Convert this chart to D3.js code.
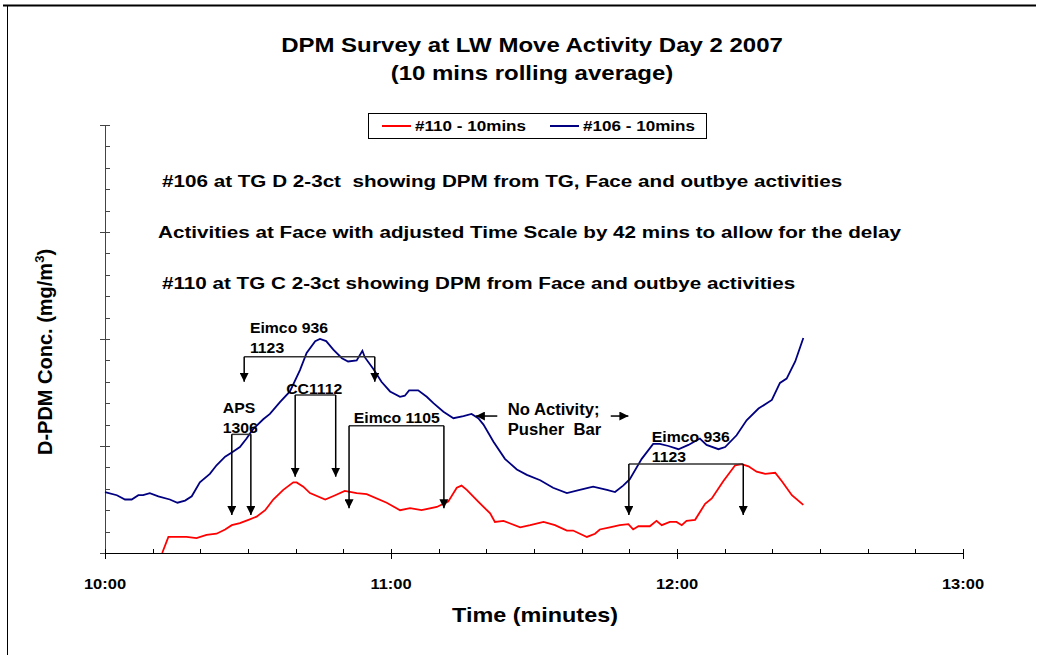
<!DOCTYPE html>
<html>
<head>
<meta charset="utf-8">
<style>
body { margin: 0; background: #fff; }
svg text { font-family: "Liberation Sans", Arial, sans-serif; font-weight: bold; fill: #000; white-space: pre; }
</style>
</head>
<body>
<div id="container"></div>
<script src="https://d3js.org/d3.v7.min.js"></script>
<script>
const width = 1038, height = 655;

// minutes after 10:00, 10-min rolling average
const timeTicks = [0, 60, 120, 180];
const timeLabels = ["10:00", "11:00", "12:00", "13:00"];

const t106 = [0, 2.5, 4.2, 5.6, 7, 8, 9.4, 11.2, 13.6, 15.2, 16.8, 18.2, 19.9, 22, 23.4, 25.2, 26.6, 28.3, 29.7, 31.1, 33.2, 34.6, 36.7, 38.8, 40.9, 42.3, 44.1, 45.1, 46.4, 47.9, 49.7, 51, 52.8, 54, 54.5, 56.3, 58, 59.8, 61.9, 62.9, 63.8, 65.7, 67.5, 68.9, 71, 73.1, 75.2, 76.9, 78.3, 79.4, 81.5, 83.9, 86.4, 88.5, 91.3, 94, 96.9, 99.6, 102.4, 105.3, 107, 108.7, 110.1, 112.6, 115, 116.4, 118.2, 120.3, 122.4, 124.8, 126.2, 128.7, 130.1, 132.5, 134.6, 137.1, 139.9, 141.6, 143, 144.8, 146.5];
const v106 = [0.057, 0.054, 0.050, 0.050, 0.054, 0.054, 0.056, 0.053, 0.050, 0.047, 0.049, 0.053, 0.066, 0.074, 0.082, 0.090, 0.094, 0.099, 0.107, 0.116, 0.125, 0.130, 0.141, 0.151, 0.171, 0.187, 0.198, 0.200, 0.198, 0.190, 0.182, 0.179, 0.180, 0.189, 0.183, 0.172, 0.160, 0.151, 0.146, 0.147, 0.152, 0.152, 0.146, 0.140, 0.132, 0.126, 0.128, 0.130, 0.126, 0.120, 0.104, 0.088, 0.078, 0.073, 0.068, 0.061, 0.056, 0.059, 0.062, 0.059, 0.057, 0.063, 0.069, 0.088, 0.102, 0.102, 0.100, 0.097, 0.101, 0.107, 0.101, 0.097, 0.099, 0.110, 0.124, 0.135, 0.143, 0.159, 0.163, 0.179, 0.201];

const t110 = [12, 13.3, 15, 17.1, 19.2, 21.3, 23.4, 25.2, 26.6, 28.3, 30.1, 31.8, 33.6, 35.3, 37.4, 39.5, 40.2, 41.6, 43, 46.2, 48.3, 50.3, 52.8, 54.9, 59.1, 61.9, 64, 66.4, 69.6, 72, 73.8, 74.8, 75.9, 78.3, 80.8, 81.8, 83.6, 87.1, 89.2, 92, 94.4, 96.9, 98.2, 101.1, 102.8, 103.8, 105.9, 108, 109.8, 110.8, 111.9, 114.3, 115.7, 116.8, 118.5, 119.9, 121, 122, 123.8, 125.9, 127.3, 129.7, 132.2, 133.6, 135, 136.7, 138.5, 140.6, 142, 144.1, 146.5];
const v110 = [0, 0.015, 0.015, 0.015, 0.014, 0.017, 0.018, 0.022, 0.026, 0.028, 0.031, 0.034, 0.040, 0.050, 0.059, 0.066, 0.066, 0.062, 0.056, 0.050, 0.054, 0.058, 0.056, 0.055, 0.047, 0.040, 0.042, 0.040, 0.043, 0.048, 0.061, 0.063, 0.059, 0.048, 0.037, 0.029, 0.030, 0.024, 0.026, 0.029, 0.026, 0.021, 0.021, 0.015, 0.018, 0.022, 0.024, 0.026, 0.027, 0.022, 0.025, 0.025, 0.030, 0.026, 0.029, 0.029, 0.026, 0.030, 0.031, 0.046, 0.051, 0.067, 0.082, 0.083, 0.081, 0.076, 0.074, 0.075, 0.067, 0.054, 0.045];

const seriesNames = ["#110 - 10mins", "#106 - 10mins"];
const seriesColors = ["#ff0000", "#000080"];

const noteLines = [
  "#106 at TG D 2-3ct  showing DPM from TG, Face and outbye activities",
  "Activities at Face with adjusted Time Scale by 42 mins to allow for the delay",
  "#110 at TG C 2-3ct showing DPM from Face and outbye activities"
];

// bracket annotations: label, label time/value, bracket ends (min), bar value, arrow tip value
const brackets = [
  { label: ["Eimco 936", "1123"], lt: 30.4, lv: 0.2056, t1: 29.2, t2: 56.6, bar: 0.1835, tip: 0.160 },
  { label: ["APS", "1306"], lt: 24.7, lv: 0.1308, t1: 26.6, t2: 30.6, bar: 0.1109, tip: 0.0355 },
  { label: ["CC1112"], lt: 38.0, lv: 0.1486, t1: 39.9, t2: 48.4, bar: 0.1477, tip: 0.0713 },
  { label: ["Eimco 1105"], lt: 52.2, lv: 0.1215, t1: 51.2, t2: 71.1, bar: 0.119, tip: 0.0418 },
  { label: ["Eimco 936", "1123"], lt: 114.7, lv: 0.1037, t1: 109.9, t2: 133.9, bar: 0.0832, tip: 0.0355 }
];

const svg = d3.select('#container').append('svg')
    .attr('width', width).attr('height', height);

// text stretched sideways like the source picture
function txt(g, px, py, s, size, sx, anchor) {
  return g.append('text')
      .attr('transform', `translate(${px},${py}) scale(${sx},1)`)
      .attr('text-anchor', anchor || 'start')
      .style('font-size', size + 'px').text(s);
}

svg.append('defs').append('marker')
    .attr('id', 'head').attr('viewBox', '0 0 10 10')
    .attr('refX', 10).attr('refY', 5)
    .attr('markerWidth', 9).attr('markerHeight', 9)
    .attr('markerUnits', 'userSpaceOnUse')
    .attr('orient', 'auto')
  .append('path').attr('d', 'M0,0L10,5L0,10Z').attr('fill', '#000');

// outer frame (top + left only visible)
svg.append('line').attr('x1', 3).attr('x2', 1036).attr('y1', 5.5).attr('y2', 5.5)
    .attr('stroke', '#000').attr('stroke-width', 2);
svg.append('line').attr('x1', 7.5).attr('x2', 7.5).attr('y1', 5).attr('y2', 655)
    .attr('stroke', '#000').attr('stroke-width', 1);

const x = d3.scaleLinear().domain([0, 180]).range([105, 963]);
const y = d3.scaleLinear().domain([0, 0.4]).range([553, 125]);

// title
txt(svg, 532, 52, 'DPM Survey at LW Move Activity Day 2 2007', 20, 1.2, 'middle');
txt(svg, 532, 80, '(10 mins rolling average)', 20, 1.2, 'middle');

// y axis: majors cross, minors inside
const yAxis = svg.append('g').attr('stroke', '#444');
yAxis.append('line').attr('x1', 105.5).attr('x2', 105.5).attr('y1', y(0.4)).attr('y2', y(0));
yAxis.selectAll('.ymin').data(d3.range(0, 0.4001, 0.02)).enter().append('line')
    .attr('x1', d => Math.round(d * 50) % 5 === 0 ? 100 : 105)
    .attr('x2', 110)
    .attr('y1', d => Math.round(y(d)) + 0.5).attr('y2', d => Math.round(y(d)) + 0.5);

// series
const line = d3.line().x(d => x(d[0])).y(d => y(d[1]));
svg.append('path').datum(t110.map((t, i) => [t, v110[i]]))
    .attr('d', line).attr('fill', 'none').attr('stroke', seriesColors[0]).attr('stroke-width', 1.8);
svg.append('path').datum(t106.map((t, i) => [t, v106[i]]))
    .attr('d', line).attr('fill', 'none').attr('stroke', seriesColors[1]).attr('stroke-width', 1.8);

// x axis
const xAxis = svg.append('g').attr('stroke', '#000');
xAxis.append('line').attr('x1', x(0)).attr('x2', x(180)).attr('y1', 553.5).attr('y2', 553.5);
xAxis.selectAll('.xmin').data(d3.range(0, 181, 10)).enter().append('line')
    .attr('x1', d => Math.round(x(d)) + 0.5).attr('x2', d => Math.round(x(d)) + 0.5)
    .attr('y1', 549)
    .attr('y2', d => d % 60 === 0 ? 559 : 553);

timeTicks.forEach((d, i) => txt(svg, x(d), 589, timeLabels[i], 15, 1.1, 'middle'));

txt(svg, 535, 622, 'Time (minutes)', 20, 1.17, 'middle');

const yt = svg.append('text').attr('transform', 'translate(52,352) rotate(-90)')
    .attr('text-anchor', 'middle').style('font-size', '20px');
yt.append('tspan').text('D-PDM Conc. (mg/m');
yt.append('tspan').attr('dy', -8).style('font-size', '13px').text('3');
yt.append('tspan').attr('dy', 8).text(')');

// notes
noteLines.forEach((s, i) => txt(svg, [162, 158, 162][i], 187 + i * 51, s, 17, 1.215));

// bracket annotations
const ann = svg.append('g');
brackets.forEach(b => {
  ann.append('path')
      .attr('d', `M${x(b.t1)},${y(b.bar)}H${x(b.t2)}`)
      .attr('stroke', '#333').attr('stroke-width', 1.5).attr('fill', 'none');
  [b.t1, b.t2].forEach(t => {
    ann.append('line')
        .attr('x1', x(t)).attr('x2', x(t))
        .attr('y1', y(b.bar)).attr('y2', y(b.tip))
        .attr('stroke', '#000').attr('stroke-width', 1.5)
        .attr('marker-end', 'url(#head)');
  });
  b.label.forEach((s, i) => txt(ann, x(b.lt), y(b.lv) + i * 20, s, 15.5, 1.02));
});

// no activity note with arrows
txt(ann, x(84.5), 415, 'No Activity;', 16, 1.04);
txt(ann, x(84.5), 435, 'Pusher  Bar', 16, 1.04);
[[82.3, 77.8], [106.1, 109.8]].forEach(p => {
  ann.append('line').attr('x1', x(p[0])).attr('x2', x(p[1]))
      .attr('y1', y(0.128)).attr('y2', y(0.128))
      .attr('stroke', '#000').attr('stroke-width', 1.5)
      .attr('marker-end', 'url(#head)');
});

// legend
const lg = svg.append('g');
lg.append('rect').attr('x', 368.5).attr('y', 113.5).attr('width', 338).attr('height', 25)
    .attr('fill', '#fff').attr('stroke', '#000');
seriesNames.forEach((n, i) => {
  const lx = [382, 550][i];
  lg.append('line').attr('x1', lx).attr('x2', lx + 29).attr('y1', 126).attr('y2', 126)
      .attr('stroke', seriesColors[i]).attr('stroke-width', 2);
  txt(lg, lx + 33, 131, n, 14, 1.22);
});
</script>
</body>
</html>
